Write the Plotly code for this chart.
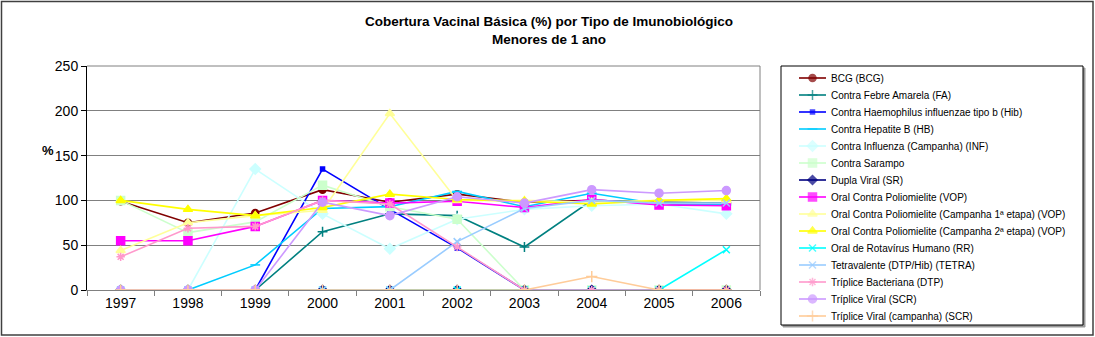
import plotly.graph_objects as go

years = ["1997", "1998", "1999", "2000", "2001", "2002", "2003", "2004", "2005", "2006"]

bcg = [99, 75, 86, 112, 98, 107, 98, 100, 98, 97]
fa = [0, 0, 0, 65, 85, 83, 48, 100, 98, 97]
hib = [0, 0, 0, 135, 90, 47, 0, 0, 0, 0]
hb = [0, 0, 28, 91, 93, 110, 93, 108, 96, 95]
inf = [0, 0, 135, 85, 46, 79, 90, 94, 96, 85]
sarampo = [100, 64, 76, 117, 93, 79, 0, 0, 0, 0]
sr = [0, 0, 0, 0, 0, 0, 0, 0, 0, 0]
vop = [55, 55, 71, 100, 97, 99, 92, 101, 95, 94]
vop1 = [44, 75, 83, 89, 197, 100, 100, 98, 100, 100]
vop2 = [100, 90, 83, 92, 107, 101, 99, 96, 100, 102]
rr = [0, 0, 0, 0, 0, 0, 0, 0, 0, 45]
tetra = [0, 0, 0, 0, 0, 54, 91, 100, 97, 97]
dtp = [37, 69, 71, 100, 96, 48, 0, 0, 0, 0]
scr = [0, 0, 0, 98, 83, 104, 97, 112, 108, 111]
scr_camp = [0, 0, 0, 0, 0, 0, 0, 15, 0, 0]

series = [
    ("BCG (BCG)", bcg, "#800000", "circle", 7),
    ("Contra Febre Amarela (FA)", fa, "#008080", "cross-thin", 7),
    ("Contra Haemophilus influenzae tipo b (Hib)", hib, "#0000FF", "square", 4),
    ("Contra Hepatite B (HB)", hb, "#00CCFF", "line-ew", 7),
    ("Contra Influenza (Campanha) (INF)", inf, "#CCFFFF", "diamond", 8),
    ("Contra Sarampo", sarampo, "#CCFFCC", "square", 8),
    ("Dupla Viral (SR)", sr, "#000080", "diamond", 7),
    ("Oral Contra Poliomielite (VOP)", vop, "#FF00FF", "square", 8),
    ("Oral Contra Poliomielite (Campanha 1ª etapa) (VOP)", vop1, "#FFFF99", "triangle-up", 8),
    ("Oral Contra Poliomielite (Campanha 2ª etapa) (VOP)", vop2, "#FFFF00", "triangle-up", 8),
    ("Oral de Rotavírus Humano (RR)", rr, "#00FFFF", "x-thin", 7),
    ("Tetravalente (DTP/Hib) (TETRA)", tetra, "#99CCFF", "x-thin", 7),
    ("Tríplice Bacteriana (DTP)", dtp, "#FF99CC", "asterisk", 7),
    ("Tríplice Viral (SCR)", scr, "#CC99FF", "circle", 8),
    ("Tríplice Viral (campanha) (SCR)", scr_camp, "#FFCC99", "cross-thin", 8),
]

W, H = 1095, 337
PL, PR, PT, PB = 87, 760, 66, 290  # plot area in pixels

fig = go.Figure()
for name, vals, color, sym, size in series:
    fig.add_trace(go.Scatter(
        x=years, y=vals, name=name, mode="lines+markers", showlegend=False,
        line=dict(color=color, width=1.6),
        marker=dict(symbol=sym, size=size, color=color,
                    line=dict(color=color, width=1.5)),
        xaxis="x", yaxis="y",
    ))

# manual legend (pixel-coordinate overlay axes)
annotations = []
shapes = []
LEG_X0, LEG_X1, LEG_Y0, LEG_Y1 = 781, 1083, 66, 325
ROW0, ROWGAP = 78, 17
for i, (name, vals, color, sym, size) in enumerate(series):
    yy = ROW0 + i * ROWGAP
    fig.add_trace(go.Scatter(
        x=[799, 812.5, 826], y=[yy, yy, yy], mode="lines+markers", showlegend=False,
        hoverinfo="skip",
        line=dict(color=color, width=1.6),
        marker=dict(symbol=sym, size=[0, size, 0], color=color,
                    line=dict(color=color, width=[0, 1.5, 0])),
        xaxis="x2", yaxis="y2",
    ))
    annotations.append(dict(text=name, xref="x2", yref="y2", x=829, y=yy,
                            xanchor="left", yanchor="middle", showarrow=False,
                            font=dict(size=10)))

shapes += [
    # legend shadow + box
    dict(type="rect", xref="x2", yref="y2", x0=LEG_X0 + 2, x1=LEG_X1 + 2, y0=LEG_Y0 + 2, y1=LEG_Y1 + 2,
         line=dict(color="#999999", width=1), fillcolor="#999999", layer="below"),
    dict(type="rect", xref="x2", yref="y2", x0=LEG_X0, x1=LEG_X1, y0=LEG_Y0, y1=LEG_Y1,
         line=dict(color="black", width=1), fillcolor="white", layer="below"),
    # outer chart border
    dict(type="rect", xref="x2", yref="y2", x0=1.5, x1=1093, y0=1.5, y1=335,
         line=dict(color="#404040", width=1.5)),
    # plot area top/right border
    dict(type="line", xref="x2", yref="y2", x0=PL, x1=PR, y0=PT, y1=PT,
         line=dict(color="#808080", width=1)),
    dict(type="line", xref="x2", yref="y2", x0=PR, x1=PR, y0=PT, y1=PB,
         line=dict(color="#808080", width=1)),
]

annotations += [
    dict(text="<b>Cobertura Vacinal Básica (%) por Tipo de Imunobiológico<br>Menores de 1 ano</b>",
         xref="x2", yref="y2", x=549, y=30.5, xanchor="center", yanchor="middle",
         showarrow=False, font=dict(size=13.5)),
    dict(text="<b>%</b>", xref="x2", yref="y2", x=48, y=150,
         xanchor="center", yanchor="middle", showarrow=False, font=dict(size=13)),
]

fig.update_layout(
    width=W, height=H,
    margin=dict(l=0, r=0, t=0, b=0),
    paper_bgcolor="white", plot_bgcolor="rgba(0,0,0,0)",
    font=dict(family="Liberation Sans, Arial", size=14, color="black"),
    showlegend=False,
    shapes=shapes,
    annotations=annotations,
    xaxis=dict(type="category", domain=[PL / W, PR / W], anchor="y",
               showgrid=False, showline=True, linecolor="#808080",
               ticks="outside", tickson="boundaries", ticklen=5,
               tickcolor="#808080", tickfont=dict(size=14), range=[-0.5, 9.5],
               automargin=False, fixedrange=True),
    yaxis=dict(domain=[(H - PB) / H, (H - PT) / H], anchor="x",
               range=[0, 250], dtick=50, showgrid=True, gridcolor="#808080", gridwidth=1,
               showline=True, linecolor="black", ticks="outside", ticklen=5,
               tickcolor="black", tickfont=dict(size=14), zeroline=False,
               automargin=False, fixedrange=True),
    xaxis2=dict(domain=[0, 1], anchor="y2", range=[0, W], visible=False, fixedrange=True),
    yaxis2=dict(domain=[0, 1], anchor="x2", range=[H, 0], visible=False, fixedrange=True),
)

fig.write_html("out.html")
